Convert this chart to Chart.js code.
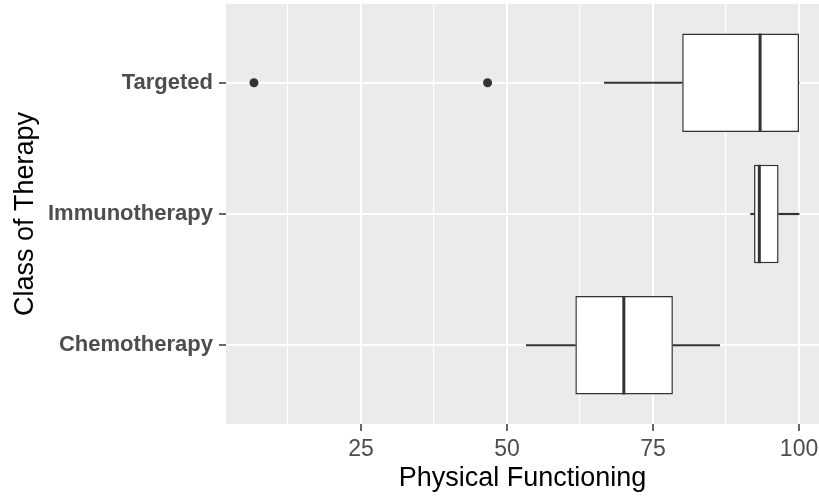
<!DOCTYPE html>
<html>
<head>
<meta charset="utf-8">
<script src="https://cdn.jsdelivr.net/npm/chart.js@4"></script>
<style>
  html, body { margin: 0; padding: 0; background: #ffffff; }
  canvas { display: block; }
</style>
</head>
<body>
<canvas id="c" width="819" height="496"></canvas>
<script>
// ---- data (categories listed bottom to top) ----
const categories = ['Chemotherapy', 'Immunotherapy', 'Targeted'];
const whiskerLow = [53.3, 91.7, 66.67];
const q1 = [61.7, 92.3, 80];
const medians = [70, 93.2, 93.33];
const q3 = [78.4, 96.5, 100];
const whiskerHigh = [86.4, 100, 100];
const outlierCategory = ['Targeted', 'Targeted'];
const outlierValues = [6.67, 46.67];
const xTickValues = [12.5, 25, 37.5, 50, 62.5, 75, 87.5, 100];
const xTickLabels = ['', '25', '', '50', '', '75', '', '100'];

const pos = categories.map((c, i) => i + 1);
const FONT = "'Liberation Sans', Arial, sans-serif";
const INK = '#333333';

const lowWhisker = categories.map((c, i) => ({ y: pos[i], x: [whiskerLow[i], q1[i]] }));
const highWhisker = categories.map((c, i) => ({ y: pos[i], x: [q3[i], whiskerHigh[i]] }));
const boxes = categories.map((c, i) => ({ y: pos[i], x: [q1[i], q3[i]] }));
const outliers = outlierValues.map((v, i) => ({ x: v, y: categories.indexOf(outlierCategory[i]) + 1 }));

const bgPlugin = {
  id: 'panelBg',
  beforeDraw(chart) {
    const { ctx, chartArea: a } = chart;
    ctx.save();
    ctx.fillStyle = '#EBEBEB';
    ctx.fillRect(a.left, a.top, a.right - a.left, a.bottom - a.top);
    ctx.restore();
  }
};

const medianPlugin = {
  id: 'medians',
  afterDatasetsDraw(chart) {
    const ctx = chart.ctx;
    const meta = chart.getDatasetMeta(2);
    const xs = chart.scales.x;
    ctx.save();
    ctx.strokeStyle = INK;
    ctx.lineWidth = 3;
    meta.data.forEach((el, i) => {
      const px = xs.getPixelForValue(medians[i]);
      const h = el.height;
      ctx.beginPath();
      ctx.moveTo(px, el.y - h / 2);
      ctx.lineTo(px, el.y + h / 2);
      ctx.stroke();
    });
    ctx.restore();
  }
};

function noPad(scale) {
  scale.paddingTop = 0;
  scale.paddingBottom = 0;
  scale.paddingLeft = 0;
  scale.paddingRight = 0;
}

new Chart(document.getElementById('c'), {
  type: 'bar',
  data: {
    datasets: [
      { type: 'bar', indexAxis: 'y', data: lowWhisker, grouped: false, barThickness: 1.5,
        backgroundColor: INK, borderWidth: 0, order: 3 },
      { type: 'bar', indexAxis: 'y', data: highWhisker, grouped: false, barThickness: 1.5,
        backgroundColor: INK, borderWidth: 0, order: 3 },
      { type: 'bar', indexAxis: 'y', data: boxes, grouped: false,
        categoryPercentage: 1, barPercentage: 0.75,
        backgroundColor: '#FFFFFF', borderColor: INK, borderWidth: 1.5, borderSkipped: false, order: 2 },
      { type: 'scatter', indexAxis: 'x', data: outliers, pointRadius: 4.5, pointHoverRadius: 4.5,
        backgroundColor: INK, borderColor: INK, borderWidth: 0, order: 1 }
    ]
  },
  options: {
    indexAxis: 'y',
    responsive: false,
    animation: false,
    events: [],
    layout: { autoPadding: false, padding: { top: 4, right: 0, left: 0, bottom: 0 } },
    plugins: { legend: { display: false }, tooltip: { enabled: false } },
    scales: {
      x: {
        type: 'linear', position: 'bottom', min: 1.88, max: 103.42, offset: false, beginAtZero: false,
        border: { display: false },
        grid: {
          offset: false, color: '#FFFFFF',
          lineWidth: (c) => (c.tick && c.tick.value % 25 === 0) ? 2 : 1.2,
          tickColor: (c) => (c.tick && c.tick.value % 25 === 0) ? INK : 'rgba(0,0,0,0)',
          tickLength: 7, tickWidth: 1.5
        },
        afterBuildTicks: (scale) => { scale.ticks = xTickValues.map(v => ({ value: v })); },
        afterFit: (scale) => { scale.height = 72; noPad(scale); },
        ticks: {
          autoSkip: false, maxRotation: 0, padding: 5, color: '#4D4D4D',
          font: { family: FONT, size: 23 },
          callback: (v) => { const k = xTickValues.indexOf(v); return k >= 0 ? xTickLabels[k] : ''; }
        },
        title: { display: true, text: 'Physical Functioning', color: '#000000',
          font: { family: FONT, size: 27 }, padding: { top: 0, bottom: 1 } }
      },
      y: {
        type: 'linear', position: 'left', min: 0.4, max: 3.6, offset: false, beginAtZero: false,
        border: { display: false },
        grid: { offset: false, color: '#FFFFFF', lineWidth: 2, tickColor: INK, tickLength: 7, tickWidth: 1.5 },
        afterBuildTicks: (scale) => { scale.ticks = pos.map(v => ({ value: v })); },
        afterFit: (scale) => { scale.width = 226; noPad(scale); },
        ticks: {
          autoSkip: false, padding: 6, color: '#4D4D4D',
          font: { family: FONT, size: 22, weight: 'bold' },
          callback: (v) => { const k = pos.indexOf(v); return k >= 0 ? categories[k] : ''; }
        },
        title: { display: true, text: 'Class of Therapy', color: '#000000',
          font: { family: FONT, size: 27 }, padding: { top: 9, bottom: 0 } }
      }
    }
  },
  plugins: [bgPlugin, medianPlugin]
});
</script>
</body>
</html>
